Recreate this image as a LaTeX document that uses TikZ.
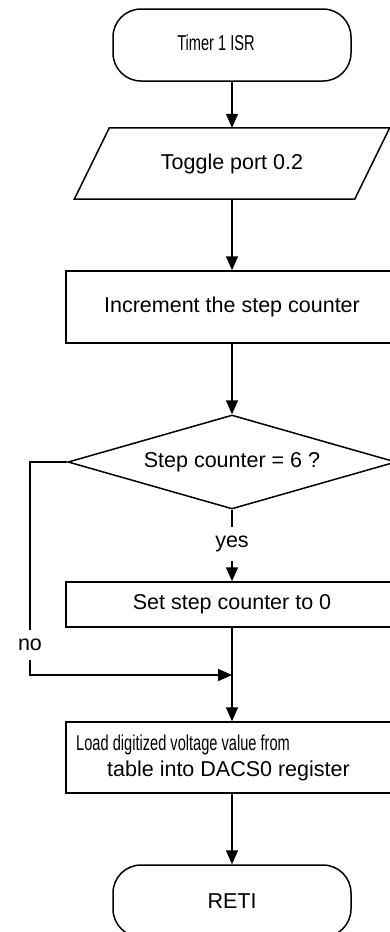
\documentclass[tikz,border=0pt]{standalone}
\usepackage{fontspec}
\setmainfont{Liberation Sans}
\usetikzlibrary{shapes.geometric,arrows.meta}
\tikzset{
  txt/.style={font=\fontsize{21.5}{25}\selectfont},
  outline/.style={draw, line width=1.5pt},
  term/.style={outline, rounded corners=28pt, minimum width=238pt, minimum height=72pt, inner sep=0pt},
  procbox/.style={outline, minimum width=332pt, inner sep=0pt},
  arr/.style={line width=1.7pt, -{Triangle[length=14pt,width=12pt]}},
  conn/.style={line width=1.7pt},
  lbl/.style={txt, fill=white, inner xsep=2pt, inner ysep=9pt}
}
\newcommand{\narrowtext}[1]{\scalebox{0.68}[1]{#1}}
\begin{document}
\begin{tikzpicture}[x=1pt, y=-1pt, txt]
  \useasboundingbox (0,0) rectangle (389,932);

  % terminators
  \node[term] (start) at (232,45) {};
  \node[txt] (starttxt) at (216,43) {\narrowtext{Timer 1 ISR}};
  \node[term] (reti) at (232,901) {RETI};

  % output step drawn as a parallelogram around an invisible node
  \node[minimum width=280pt, minimum height=71pt, inner sep=0pt] (tog) at (232,163.5) {Toggle port 0.2};
  \draw[outline] ([xshift=17.5pt]tog.north west) -- ([xshift=17.5pt]tog.north east)
    -- ([xshift=-17.5pt]tog.south east) -- ([xshift=-17.5pt]tog.south west) -- cycle;

  % process boxes
  \node[procbox, minimum height=72pt] (inc) at (232,307) {Increment the step counter};
  \node[diamond, outline, minimum width=328pt, minimum height=94pt, shape aspect=3.5, inner sep=0pt] (dec) at (232,462) {Step counter = 6 ?};
  \node[procbox, minimum height=45pt] (set) at (232,604.5) {Set step counter to 0};
  \node[procbox, minimum height=71pt] (load) at (232,757.5) {};
  \node[txt, anchor=west, inner sep=0pt] (loadA) at (76,745) {\narrowtext{Load digitized voltage value from}};
  \node[txt, inner sep=0pt] (loadB) at (228.5,771) {table into DACS0 register};

  % branch labels
  \node[lbl] (yes) at (232,544) {yes};
  \node[lbl] (no) at (30,645) {no};
  \coordinate (mrg) at (232,675);

  % connectors
  \draw[arr] (start.south) -- (tog.north);
  \draw[arr] (tog.south) -- (inc.north);
  \draw[arr] (inc.south) -- (dec.north);
  \draw[conn] (dec.south) -- (yes.north);
  \draw[arr] (yes.south) -- (set.north);
  \draw[arr] (set.south) -- (load.north);
  \draw[conn] (dec.west) -| (no.north);
  \draw[arr] (no.south) |- (mrg);
  \draw[arr] (load.south) -- (reti.north);
\end{tikzpicture}
\end{document}
